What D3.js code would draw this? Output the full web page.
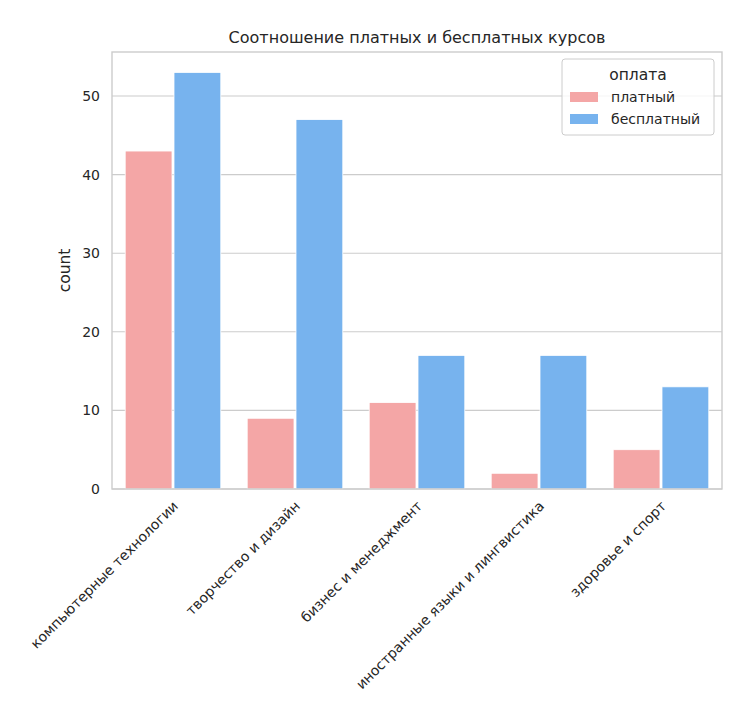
<!DOCTYPE html>
<html><head><meta charset="utf-8">
<script src="https://cdn.jsdelivr.net/npm/d3@7"></script>
<style>body{margin:0;background:#fff}text{font-family:"DejaVu Sans",sans-serif;fill:#262626}</style>
</head><body><svg id="c" width="732" height="719"></svg>
<script>
const categories = ['компьютерные технологии','творчество и дизайн','бизнес и менеджмент','иностранные языки и лингвистика','здоровье и спорт'];
const series = ['платный','бесплатный'];
const paid = [43, 9, 11, 2, 5];
const free = [53, 47, 17, 17, 13];
const colors = ['#F4A6A6','#77B3EE'];
const yTicks = [0,10,20,30,40,50];

const m = {left:112, right:722, top:52, bottom:489};
const svg = d3.select('#c');
const x = d3.scaleBand().domain(categories).range([m.left, m.right]);
const xs = d3.scaleBand().domain(series).range([0, x.bandwidth()]).paddingOuter(0.1*1.25);
const y = d3.scaleLinear().domain([0, 55.6]).range([m.bottom, m.top]);

// grid
svg.append('g').selectAll('line').data(yTicks).join('line')
  .attr('x1', m.left).attr('x2', m.right).attr('y1', d=>y(d)).attr('y2', d=>y(d))
  .attr('stroke', '#cccccc').attr('stroke-width', 1.1);

const inner = x.bandwidth()*0.8;
const bw = inner/2;
const data = [paid, free];
data.forEach((vals, si) => {
  svg.append('g').selectAll('rect').data(vals).join('rect')
    .attr('x', (d,i)=>x(categories[i]) + x.bandwidth()*0.1 + si*bw + 1)
    .attr('width', bw - 2)
    .attr('y', d=>y(d)).attr('height', d=>y(0)-y(d))
    .attr('fill', colors[si]).attr('stroke','#fff').attr('stroke-width',0.8);
});

// frame
svg.append('rect').attr('x', m.left).attr('y', m.top).attr('width', m.right-m.left).attr('height', m.bottom-m.top)
  .attr('fill','none').attr('stroke','#cccccc').attr('stroke-width',1.4);

// y ticks
svg.append('g').selectAll('text').data(yTicks).join('text')
  .attr('x', m.left-12).attr('y', d=>y(d)).attr('dy','0.35em').attr('text-anchor','end')
  .attr('font-size',14).text(d=>d);
svg.append('text').attr('transform',`translate(70,${(m.top+m.bottom)/2}) rotate(-90)`)
  .attr('text-anchor','middle').attr('font-size',15.5).text('count');

// x labels
svg.append('g').selectAll('text').data(categories).join('text')
  .attr('transform', d=>`translate(${x(d)+x.bandwidth()/2+6},${m.bottom+18}) rotate(-45)`)
  .attr('text-anchor','end').attr('font-size',14).text(d=>d);

svg.append('text').attr('x',(m.left+m.right)/2).attr('y',43).attr('text-anchor','middle')
  .attr('font-size',16).text('Соотношение платных и бесплатных курсов');

// legend
const lg = svg.append('g');
lg.append('rect').attr('x',562).attr('y',59).attr('width',152).attr('height',76).attr('rx',3)
  .attr('fill','#fff').attr('fill-opacity',0.8).attr('stroke','#ccc');
lg.append('text').attr('x',638).attr('y',80).attr('text-anchor','middle').attr('font-size',15.5).text('оплата');
series.forEach((s,i)=>{
  lg.append('rect').attr('x',570).attr('y',92+i*22).attr('width',28).attr('height',10).attr('fill',colors[i]);
  lg.append('text').attr('x',611).attr('y',97+i*22).attr('dy','0.35em').attr('font-size',14).text(s);
});
</script></body></html>
